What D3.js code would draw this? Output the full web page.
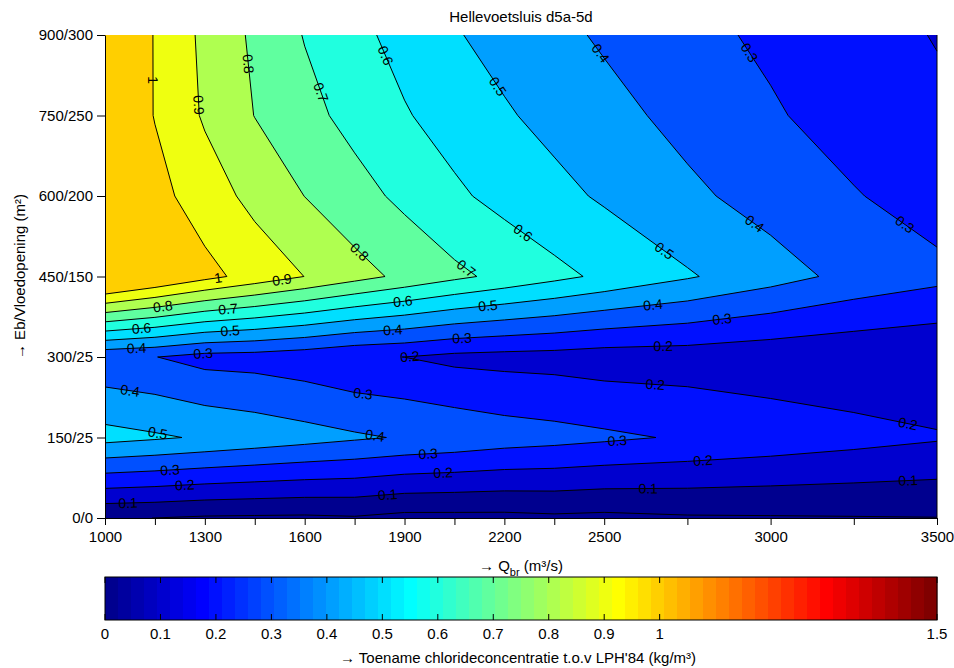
<!DOCTYPE html>
<html>
<head>
<meta charset="utf-8">
<script src="https://cdn.jsdelivr.net/npm/d3@7"></script>
<style>
  body { margin: 0; background: #fff; }
  svg { display: block; }
  text { font-family: "Liberation Sans", Arial, Helvetica, sans-serif; fill: #000; }
</style>
</head>
<body>
<svg id="chart" width="954" height="668"></svg>
<script>
// ---- data -------------------------------------------------------------
// discharge grid (m3/s) on which the model runs were made
const discharges = [1000, 1150, 1300, 1450, 1600, 1750, 1900, 2050, 2200, 2350, 2500, 2750, 3000, 3250, 3500];
const dischargeTickLabels = [1000, 1300, 1600, 1900, 2200, 2500, 3000, 3500];
// ebb/flood opening variants (m2)
const openings = ["0/0", "150/25", "300/25", "450/150", "600/200", "750/250", "900/300"];

// chloride increase (kg/m3) per opening, one value per discharge
const opening0_0     = [0.005, -0.0003, -0.012, -0.015, -0.017, -0.009, -0.029, -0.028, -0.027, -0.018, -0.024, -0.011, -0.008, -0.005, -0.002];
const opening150_25  = [0.535, 0.513, 0.489, 0.464, 0.439, 0.414, 0.392, 0.374, 0.350, 0.335, 0.318, 0.289, 0.263, 0.236, 0.210];
const opening300_25  = [0.320, 0.302, 0.265, 0.259, 0.240, 0.210, 0.1995, 0.175, 0.167, 0.162, 0.150, 0.148, 0.133, 0.120, 0.108];
const opening450_150 = [1.190, 1.110, 1.030, 0.962, 0.899, 0.836, 0.777, 0.722, 0.673, 0.626, 0.581, 0.510, 0.440, 0.371, 0.327];
const opening600_200 = [1.116, 1.033, 0.950, 0.871, 0.799, 0.737, 0.677, 0.617, 0.570, 0.528, 0.487, 0.420, 0.362, 0.307, 0.253];
const opening750_250 = [1.106, 0.996, 0.888, 0.798, 0.731, 0.668, 0.608, 0.559, 0.511, 0.470, 0.432, 0.370, 0.312, 0.255, 0.220];
const opening900_300 = [1.120, 0.995, 0.877, 0.782, 0.695, 0.627, 0.566, 0.508, 0.465, 0.425, 0.387, 0.331, 0.280, 0.238, 0.195];

// contour levels and colour bar ticks
const levels = [0, 0.1, 0.2, 0.3, 0.4, 0.5, 0.6, 0.7, 0.8, 0.9, 1];
const colorbarTicks = [0, 0.1, 0.2, 0.3, 0.4, 0.5, 0.6, 0.7, 0.8, 0.9, 1, 1.5];

// inline contour labels: [level, discharge, opening index]
const contourLabels = [
  [1, 1144, 5.44], [0.9, 1276, 5.13], [0.8, 1426, 5.64], [0.7, 1643, 5.28],
  [0.6, 1835, 5.73], [0.5, 2172, 5.34], [0.4, 2481, 5.75], [0.3, 2917, 5.73],
  [0.8, 1763, 3.30], [0.7, 2082, 3.08], [0.6, 2252, 3.52], [0.5, 2677, 3.30],
  [0.4, 2944, 3.61], [0.3, 3404, 3.65],
  [1, 1340, 2.98], [0.9, 1532, 2.94], [0.8, 1174, 2.62], [0.7, 1370, 2.58],
  [0.6, 1110, 2.34], [0.5, 1376, 2.32], [0.4, 1095, 2.10], [0.3, 1295, 2.03],
  [0.6, 1895, 2.69], [0.5, 2151, 2.61], [0.4, 1865, 2.32], [0.3, 2073, 2.22],
  [0.4, 2647, 2.63], [0.3, 2854, 2.47], [0.2, 1916, 2.0], [0.2, 2677, 2.14],
  [0.2, 2653, 1.64], [0.3, 1775, 1.53], [0.4, 1075, 1.58], [0.5, 1159, 1.07],
  [0.4, 1811, 1.03], [0.3, 2538, 1.02], [0.3, 1195, 0.60], [0.3, 1971, 0.80],
  [0.2, 1240, 0.39], [0.2, 2016, 0.57], [0.2, 2797, 0.70], [0.2, 3413, 1.18],
  [0.1, 1069, 0.21], [0.1, 1850, 0.26], [0.1, 2632, 0.39], [0.1, 3413, 0.46]
];

// ---- layout -----------------------------------------------------------
const svg = d3.select("#chart");
const X0 = 105, X1 = 937, Y0 = 35, Y1 = 518;
const nx = discharges.length, ny = openings.length;
const FS = 15;

const x = d3.scaleLinear().domain([discharges[0], discharges[nx - 1]]).range([X0, X1]);
const y = d3.scaleLinear().domain([0, ny - 1]).range([Y1, Y0]);

// MATLAB-style jet colormap with 64 entries (k = 1..64)
function jetColor(k) {
  const u = i => (i < 1 || i > 47) ? 0 : (i <= 16 ? i / 16 : (i <= 31 ? 1 : (48 - i) / 16));
  const r = u(k - 24), g = u(k - 8), b = u(k + 8);
  return d3.rgb(Math.round(r * 255), Math.round(g * 255), Math.round(b * 255)).formatHex();
}
const cmin = 0, cmax = 1.5;
function levelColor(t) {
  const k = Math.max(1, Math.min(64, Math.floor((Math.max(t, cmin) - cmin) / (cmax - cmin) * 64) + 1));
  return jetColor(k);
}

// ---- contours ---------------------------------------------------------
const grid = [opening0_0, opening150_25, opening300_25, opening450_150,
              opening600_200, opening750_250, opening900_300].flat();
const thresholds = [-1, ...levels];
const bands = d3.contours().size([nx, ny]).thresholds(thresholds)(grid);

// contour coordinates -> fractional grid index -> pixels
function toIndex(p) {
  return [Math.max(0, Math.min(nx - 1, p[0] - 0.5)), Math.max(0, Math.min(ny - 1, p[1] - 0.5))];
}
function indexToPx(ip) {
  const i0 = Math.min(Math.floor(ip[0]), nx - 2);
  const t = ip[0] - i0;
  const q = discharges[i0] + t * (discharges[i0 + 1] - discharges[i0]);
  return [x(q), y(ip[1])];
}
const fmt = v => v.toFixed(2);

const plot = svg.append("g");
plot.selectAll("path.band")
  .data(bands)
  .join("path")
  .attr("class", "band")
  .attr("fill", c => levelColor(c.value))
  .attr("fill-rule", "evenodd")
  .attr("d", c => c.coordinates.map(poly => poly.map(ring =>
      "M" + ring.map(p => indexToPx(toIndex(p)).map(fmt).join(",")).join("L") + "Z"
    ).join("")).join(""));

// isolines: rings without the parts that run along the grid border
function onBorder(a, b) {
  return (a[0] === 0 && b[0] === 0) || (a[0] === nx - 1 && b[0] === nx - 1) ||
         (a[1] === 0 && b[1] === 0) || (a[1] === ny - 1 && b[1] === ny - 1);
}
const isolines = new Map();
bands.filter(c => levels.includes(c.value)).forEach(c => {
  const lines = [];
  c.coordinates.forEach(poly => poly.forEach(ring => {
    const pts = ring.map(toIndex);
    let run = [];
    for (let i = 0; i < pts.length - 1; i++) {
      const a = pts[i], b = pts[i + 1];
      if (onBorder(a, b)) {
        if (run.length > 1) lines.push(run);
        run = [];
      } else {
        if (run.length === 0) run.push(a);
        run.push(b);
      }
    }
    if (run.length > 1) lines.push(run);
  }));
  isolines.set(c.value, lines.map(l => l.map(indexToPx)));
});

const lineGen = d3.line();
levels.forEach(lv => {
  plot.append("g").selectAll("path")
    .data(isolines.get(lv) || [])
    .join("path")
    .attr("d", lineGen)
    .attr("fill", "none")
    .attr("stroke", "#000")
    .attr("stroke-width", 1);
});

// right edge of the filled area
plot.append("line")
  .attr("x1", X1).attr("x2", X1).attr("y1", Y0).attr("y2", Y1)
  .attr("stroke", "#000").attr("stroke-width", 1);

// inline labels, rotated along the nearest isoline segment
contourLabels.forEach(([lv, q, r]) => {
  const lines = isolines.get(lv) || [];
  const P = [x(q), y(r)];
  let best = null;
  lines.forEach(l => {
    for (let i = 0; i < l.length - 1; i++) {
      const a = l[i], b = l[i + 1];
      const dx = b[0] - a[0], dy = b[1] - a[1];
      const len2 = dx * dx + dy * dy;
      if (len2 < 1e-6) continue;
      let t = ((P[0] - a[0]) * dx + (P[1] - a[1]) * dy) / len2;
      t = Math.max(0, Math.min(1, t));
      const cx = a[0] + t * dx, cy = a[1] + t * dy;
      const d = Math.hypot(P[0] - cx, P[1] - cy);
      if (!best || d < best.d) best = { d, cx, cy, ang: Math.atan2(dy, dx) * 180 / Math.PI };
    }
  });
  if (!best) return;
  let ang = best.ang;
  if (ang > 90) ang -= 180;
  if (ang <= -90) ang += 180;
  plot.append("text")
    .attr("transform", `translate(${fmt(best.cx)},${fmt(best.cy)}) rotate(${fmt(ang)})`)
    .attr("text-anchor", "middle")
    .attr("dy", "0.35em")
    .attr("font-size", 14)
    .text(String(lv));
});

// ---- axes ---------------------------------------------------------------
const xAxis = d3.axisBottom(x)
  .tickValues(discharges)
  .tickFormat(d => dischargeTickLabels.includes(d) ? d : "")
  .tickSize(7).tickPadding(6).tickSizeOuter(0);
const gx = svg.append("g").attr("transform", `translate(0,${Y1})`).call(xAxis);

const yAxis = d3.axisLeft(y)
  .tickValues(d3.range(ny))
  .tickFormat(i => openings[i])
  .tickSize(8).tickPadding(4).tickSizeOuter(0);
const gy = svg.append("g").attr("transform", `translate(${X0},0)`).call(yAxis);

[gx, gy].forEach(g => {
  g.attr("font-family", null);
  g.selectAll("text").attr("font-size", FS);
  g.selectAll("line, path").attr("stroke", "#000");
});

// ---- titles -------------------------------------------------------------
svg.append("text")
  .attr("x", 521).attr("y", 22)
  .attr("text-anchor", "middle").attr("font-size", FS)
  .text("Hellevoetsluis d5a-5d");

const xl = svg.append("text")
  .attr("x", 521).attr("y", 571)
  .attr("text-anchor", "middle").attr("font-size", FS);
xl.append("tspan").text("\u2192 Q");
xl.append("tspan").attr("font-size", 11).attr("dy", 5).text("br");
xl.append("tspan").attr("dy", -5).text(" (m\u00b3/s)");

svg.append("text")
  .attr("transform", `translate(25,${(Y0 + Y1) / 2}) rotate(-90)`)
  .attr("text-anchor", "middle").attr("font-size", FS)
  .text("\u2192  Eb/Vloedopening (m\u00b2)");

// ---- colour bar -----------------------------------------------------------
const CB0 = 577, CB1 = 620;
const cbx = d3.scaleLinear().domain([cmin, cmax]).range([X0, X1]);
const cb = svg.append("g");
cb.selectAll("rect.sw")
  .data(d3.range(64))
  .join("rect")
  .attr("class", "sw")
  .attr("x", i => cbx(cmin + i * (cmax - cmin) / 64))
  .attr("width", i => cbx(cmin + (i + 1) * (cmax - cmin) / 64) - cbx(cmin + i * (cmax - cmin) / 64) + 0.4)
  .attr("y", CB0).attr("height", CB1 - CB0)
  .attr("fill", i => jetColor(i + 1));
cb.append("rect")
  .attr("x", X0).attr("y", CB0).attr("width", X1 - X0).attr("height", CB1 - CB0)
  .attr("fill", "none").attr("stroke", "#000").attr("stroke-width", 1);
colorbarTicks.forEach(t => {
  const tx = cbx(t);
  cb.append("line").attr("x1", tx).attr("x2", tx).attr("y1", CB0).attr("y2", CB0 + 6).attr("stroke", "#000");
  cb.append("line").attr("x1", tx).attr("x2", tx).attr("y1", CB1 - 6).attr("y2", CB1).attr("stroke", "#000");
  cb.append("text").attr("x", tx).attr("y", 639).attr("text-anchor", "middle")
    .attr("font-size", FS).text(String(t));
});
svg.append("text")
  .attr("x", 518).attr("y", 663)
  .attr("text-anchor", "middle").attr("font-size", FS)
  .text("\u2192 Toename chlorideconcentratie t.o.v LPH'84 (kg/m\u00b3)");
</script>
</body>
</html>
